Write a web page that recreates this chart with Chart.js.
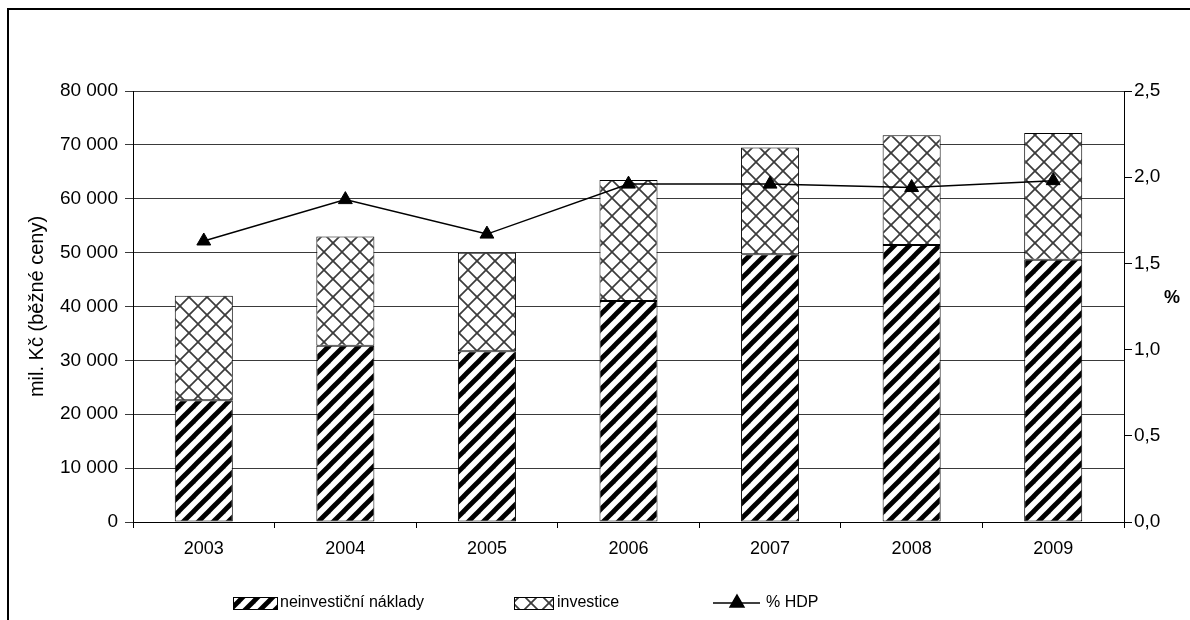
<!DOCTYPE html>
<html>
<head>
<meta charset="utf-8">
<script src="https://cdn.jsdelivr.net/npm/chart.js@4"></script>
<style>
  html, body { margin: 0; padding: 0; background: #fff; overflow: hidden; }
  #wrap { position: relative; width: 1190px; height: 620px; }
  #frame { position: absolute; left: 7px; top: 8px; width: 1400px; height: 1000px;
           border-left: 2px solid #000; border-top: 2px solid #000; }
  canvas { position: absolute; left: 0; top: 0; }
</style>
</head>
<body>
<div id="wrap">
  <div id="frame"></div>
  <canvas id="chart"></canvas>
</div>
<script>
// Výdaje na VaV, mil. Kč (běžné ceny) a podíl na HDP
const years = ["2003", "2004", "2005", "2006", "2007", "2008", "2009"];
const neinvesticni = [22600, 32700, 31700, 41000, 49700, 51400, 48700];
const investice = [19400, 20300, 18300, 22500, 19800, 20400, 23500];
const podilHDP = [1.63, 1.87, 1.67, 1.96, 1.96, 1.94, 1.98];

const FONT = "'Liberation Sans', Arial, sans-serif";

// Hatch patterns like the Excel fills (lines run past the tile so the joins are clean)
function stripePattern() {
    const p = 15;
    const c = document.createElement('canvas');
    c.width = p; c.height = p;
    const g = c.getContext('2d');
    g.fillStyle = '#fff';
    g.fillRect(0, 0, p, p);
    g.strokeStyle = '#000';
    g.lineWidth = 4.8;
    for (let k = -1; k <= 1; k++) {
        g.beginPath();
        g.moveTo(k * p - p, 2 * p);
        g.lineTo(k * p + 2 * p, -p);
        g.stroke();
    }
    return g.createPattern(c, 'repeat');
}

function crossPattern() {
    const p = 18;
    const c = document.createElement('canvas');
    c.width = p; c.height = p;
    const g = c.getContext('2d');
    g.fillStyle = '#fff';
    g.fillRect(0, 0, p, p);
    g.strokeStyle = '#3c3c3c';
    g.lineWidth = 1.7;
    for (let k = -1; k <= 1; k++) {
        g.beginPath();
        g.moveTo(k * p - p, 2 * p);
        g.lineTo(k * p + 2 * p, -p);
        g.stroke();
        g.beginPath();
        g.moveTo(k * p - p, -p);
        g.lineTo(k * p + 2 * p, 2 * p);
        g.stroke();
    }
    return g.createPattern(c, 'repeat');
}

const stripes = stripePattern();
const cross = crossPattern();

// Legend + "%" title drawn in the canvas
const extras = {
    id: 'extras',
    afterDraw(chart) {
        const ctx = chart.ctx;
        ctx.save();
        ctx.font = "bold 18px " + FONT;
        ctx.fillStyle = '#000';
        ctx.textAlign = 'center';
        ctx.textBaseline = 'middle';
        ctx.fillText('%', 1172, 298);

        const ly = 603;
        ctx.font = "16px " + FONT;
        ctx.textAlign = 'left';
        ctx.lineWidth = 1;
        ctx.strokeStyle = '#000';
        // neinvestiční náklady
        ctx.fillStyle = stripes;
        ctx.fillRect(233, ly - 6, 44, 12);
        ctx.strokeRect(233.5, ly - 5.5, 44, 12);
        ctx.fillStyle = '#000';
        ctx.fillText(chart.data.datasets[0].label, 280, ly);
        // investice
        ctx.fillStyle = cross;
        ctx.fillRect(514, ly - 6, 39, 12);
        ctx.strokeRect(514.5, ly - 5.5, 39, 12);
        ctx.fillStyle = '#000';
        ctx.fillText(chart.data.datasets[1].label, 557, ly);
        // % HDP
        ctx.lineWidth = 1.5;
        ctx.beginPath();
        ctx.moveTo(713, ly);
        ctx.lineTo(760, ly);
        ctx.stroke();
        Chart.helpers.drawPoint(ctx, { pointStyle: 'triangle', radius: 8, borderWidth: 1 }, 737, ly);
        ctx.fill();
        ctx.fillText(chart.data.datasets[2].label, 766, ly);
        ctx.restore();
    }
};

function createChart() {
    const ctx = document.getElementById('chart').getContext('2d');
    new Chart(ctx, {
        data: {
            labels: years,
            datasets: [
                {
                    type: 'bar',
                    label: 'neinvestiční náklady',
                    data: neinvesticni,
                    backgroundColor: stripes,
                    borderColor: '#000',
                    borderWidth: 1,
                    borderSkipped: false,
                    yAxisID: 'y',
                    order: 2
                },
                {
                    type: 'bar',
                    label: 'investice',
                    data: investice,
                    backgroundColor: cross,
                    borderColor: '#000',
                    borderWidth: 1,
                    borderSkipped: false,
                    yAxisID: 'y',
                    order: 2
                },
                {
                    type: 'line',
                    label: '% HDP',
                    data: podilHDP,
                    borderColor: '#000',
                    backgroundColor: '#000',
                    borderWidth: 1.5,
                    pointStyle: 'triangle',
                    pointRadius: 8,
                    pointBorderWidth: 1,
                    tension: 0,
                    yAxisID: 'y1',
                    order: 1
                }
            ]
        },
        options: {
            responsive: true,
            maintainAspectRatio: false,
            animation: false,
            datasets: {
                bar: { categoryPercentage: 1, barPercentage: 0.41 }
            },
            layout: { padding: { top: 91, left: 25, right: 0, bottom: 50 } },
            plugins: {
                legend: { display: false },
                tooltip: { enabled: false }
            },
            scales: {
                x: {
                    stacked: true,
                    afterFit: s => { s.height = 48; },
                    grid: { drawOnChartArea: false, drawTicks: true, tickLength: 6, color: '#000', offset: true },
                    border: { color: '#000', width: 1 },
                    ticks: { color: '#000', font: { family: FONT, size: 18 }, padding: 10 }
                },
                y: {
                    stacked: true,
                    min: 0,
                    max: 80000,
                    afterFit: s => { s.width = 108; },
                    ticks: {
                        stepSize: 10000,
                        color: '#000',
                        padding: 7,
                        font: { family: FONT, size: 19 },
                        callback: v => v.toLocaleString('en-US').replace(/,/g, ' ')
                    },
                    grid: { color: '#3a3a3a', tickLength: 8 },
                    border: { color: '#000', width: 1 },
                    title: {
                        display: true,
                        text: 'mil. Kč (běžné ceny)',
                        color: '#000',
                        font: { family: FONT, size: 20 },
                        padding: { top: 0, bottom: 4 }
                    }
                },
                y1: {
                    position: 'right',
                    min: 0,
                    max: 2.5,
                    afterFit: s => { s.width = 1190 - 1124; },
                    ticks: {
                        stepSize: 0.5,
                        color: '#000',
                        padding: 2,
                        font: { family: FONT, size: 19 },
                        callback: v => v.toFixed(1).replace('.', ',')
                    },
                    grid: { drawOnChartArea: false, tickLength: 8, color: '#000' },
                    border: { color: '#000', width: 1 }
                }
            }
        },
        plugins: [extras]
    });
}

document.addEventListener('DOMContentLoaded', createChart);
</script>
</body>
</html>
